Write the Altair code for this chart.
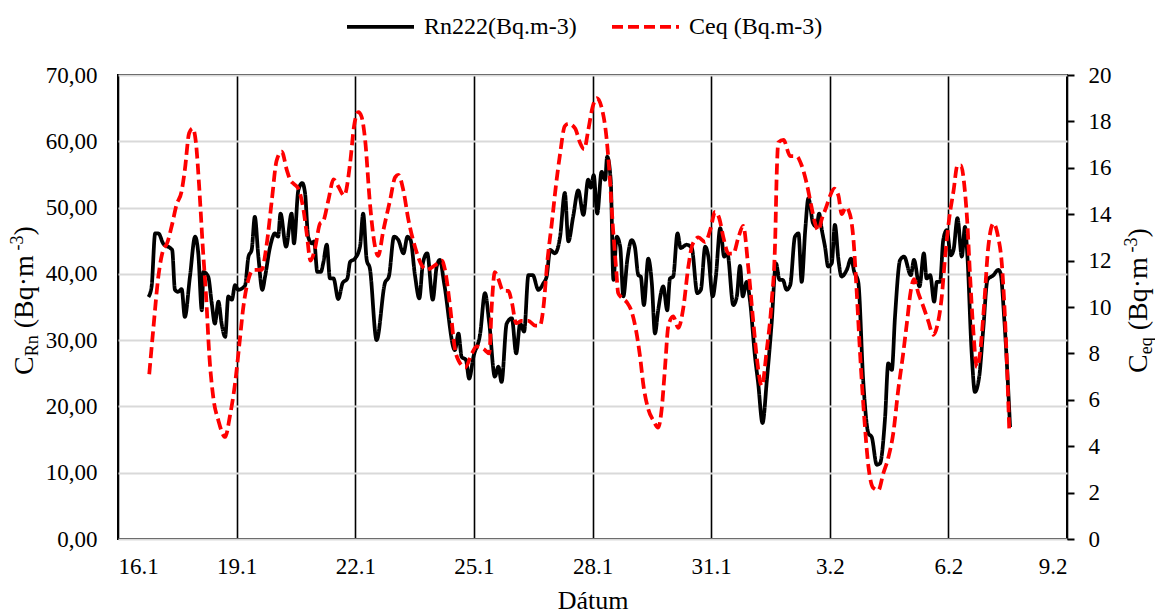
import altair as alt
import pandas as pd

SERIF = "Liberation Serif, Times New Roman, serif"

# ---- data (day offset from 16.1, value) ----
rn_day = [0.77, 0.85, 0.94, 1.02, 1.15, 1.32, 1.37, 1.44, 1.52, 1.61,
          1.69, 1.82, 1.95, 2.03, 2.12, 2.16, 2.28, 2.37, 2.45, 2.54,
          2.62, 2.71, 2.79, 2.88, 2.96, 3.04, 3.21, 3.30, 3.38, 3.46,
          3.55, 3.65, 3.72, 3.84, 3.97, 4.05, 4.11, 4.25, 4.39, 4.45,
          4.56, 4.66, 4.73, 4.81, 4.90, 4.96, 5.04, 5.13, 5.19, 5.28,
          5.36, 5.45, 5.57, 5.68, 5.80, 5.87, 5.99, 6.12, 6.20, 6.29,
          6.37, 6.54, 6.75, 6.85, 6.98, 7.09, 7.22, 7.32, 7.40, 7.51,
          7.62, 7.71, 7.82, 7.96, 8.06, 8.14, 8.25, 8.52, 8.61, 8.69,
          8.80, 8.88, 8.99, 9.16, 9.28, 9.39, 9.53, 9.62, 9.70, 9.83,
          9.96, 10.07, 10.17, 10.27, 10.38, 10.49, 10.63, 10.76, 10.84, 10.93,
          11.05, 11.18, 11.30, 11.39, 11.51, 11.64, 11.77, 11.89, 11.96, 12.03,
          12.12, 12.23, 12.32, 12.37, 12.46, 12.53, 12.61, 12.70, 12.78, 12.88,
          12.99, 13.07, 13.16, 13.22, 13.30, 13.41, 13.50, 13.58, 13.66, 13.79,
          13.89, 13.96, 14.04, 14.15, 14.23, 14.38, 14.51, 14.65, 14.74, 14.85,
          14.93, 15.04, 15.12, 15.23, 15.33, 15.41, 15.56, 15.65, 15.73, 15.80,
          15.90, 15.98, 16.11, 16.19, 16.30, 16.41, 16.53, 16.64, 16.73, 16.81,
          16.91, 17.00, 17.12, 17.21, 17.29, 17.38, 17.46, 17.58, 17.67, 17.73,
          17.80, 17.88, 17.96, 18.05, 18.13, 18.22, 18.30, 18.43, 18.54, 18.62,
          18.72, 18.85, 18.98, 19.06, 19.19, 19.27, 19.40, 19.48, 19.57, 19.65,
          19.78, 19.88, 20.05, 20.13, 20.27, 20.38, 20.45, 20.54, 20.64, 20.71,
          20.79, 20.87, 20.96, 21.06, 21.13, 21.23, 21.34, 21.42, 21.48, 21.59,
          21.67, 21.78, 21.88, 21.99, 22.14, 22.26, 22.32, 22.41, 22.56]
rn_val = [36.5, 38.1, 46.1, 46.1, 44.5, 43.9, 43.6, 37.6, 37.3, 37.7,
          33.5, 39.6, 45.6, 43.1, 34.5, 40.3, 39.6, 35.6, 32.5, 35.8,
          32.5, 30.5, 36.6, 36.1, 38.3, 37.6, 38.2, 42.6, 43.6, 48.6,
          42.6, 37.6, 39.6, 43.9, 46.1, 45.6, 49.1, 44.1, 49.1, 44.6,
          52.6, 53.7, 52.2, 45.6, 44.6, 44.9, 40.3, 40.3, 41.6, 44.4,
          39.3, 39.3, 36.2, 38.6, 39.3, 41.8, 42.3, 44.1, 49.1, 42.1,
          40.8, 30.0, 38.6, 39.6, 45.6, 45.1, 43.1, 45.6, 45.1, 39.8,
          36.3, 41.6, 43.1, 36.1, 41.1, 42.1, 38.5, 28.5, 31.0, 27.5,
          27.0, 24.2, 27.5, 31.0, 37.1, 32.5, 24.5, 26.0, 23.7, 32.5,
          33.3, 28.0, 32.5, 31.3, 39.8, 39.8, 37.6, 38.6, 39.6, 43.6,
          43.1, 45.6, 52.2, 44.9, 48.6, 52.6, 48.9, 54.2, 53.0, 54.9,
          49.1, 55.4, 54.2, 57.7, 54.2, 39.1, 45.6, 44.1, 36.6, 42.1,
          45.1, 44.1, 39.8, 39.6, 35.3, 42.3, 38.6, 31.0, 34.5, 38.1,
          34.5, 39.3, 39.6, 46.1, 43.9, 44.4, 43.9, 37.1, 37.6, 44.1,
          42.6, 36.6, 39.6, 46.9, 42.6, 43.1, 35.3, 36.6, 41.2, 36.6,
          38.8, 36.1, 27.5, 23.5, 17.5, 24.0, 32.5, 41.6, 39.1, 39.1,
          37.6, 38.3, 45.6, 46.1, 38.8, 46.6, 51.4, 47.6, 47.1, 49.1,
          46.6, 44.1, 41.1, 41.6, 47.4, 42.1, 39.6, 40.6, 42.3, 40.3,
          38.8, 23.5, 15.9, 15.4, 11.2, 11.4, 18.4, 26.5, 25.5, 33.5,
          42.1, 42.6, 39.8, 42.1, 38.1, 43.1, 39.3, 39.8, 35.8, 38.8,
          38.8, 45.1, 46.6, 42.8, 43.6, 48.4, 42.6, 47.1, 42.8, 28.0,
          22.2, 24.5, 31.5, 39.1, 39.8, 40.6, 40.1, 33.5, 16.9]

ceq_day = [0.79, 0.89, 1.02, 1.15, 1.23, 1.36, 1.48, 1.61, 1.69, 1.80,
           1.89, 1.97, 2.06, 2.14, 2.23, 2.31, 2.41, 2.54, 2.71, 2.83,
           2.96, 3.07, 3.17, 3.30, 3.42, 3.55, 3.63, 3.76, 3.89, 4.01,
           4.14, 4.27, 4.35, 4.45, 4.56, 4.69, 4.77, 4.87, 4.98, 5.11,
           5.19, 5.32, 5.45, 5.57, 5.72, 5.87, 5.97, 6.08, 6.16, 6.25,
           6.37, 6.50, 6.58, 6.71, 6.88, 7.01, 7.09, 7.22, 7.34, 7.51,
           7.68, 7.81, 7.93, 8.10, 8.19, 8.27, 8.40, 8.52, 8.61, 8.78,
           8.95, 9.07, 9.24, 9.39, 9.45, 9.53, 9.62, 9.74, 9.87, 9.96,
           10.07, 10.21, 10.38, 10.55, 10.67, 10.76, 10.86, 10.97, 11.08, 11.18,
           11.30, 11.39, 11.56, 11.68, 11.79, 11.89, 12.00, 12.11, 12.23, 12.36,
           12.44, 12.51, 12.60, 12.65, 12.74, 12.87, 12.99, 13.10, 13.20, 13.29,
           13.41, 13.54, 13.66, 13.75, 13.83, 13.92, 14.04, 14.17, 14.30, 14.42,
           14.53, 14.68, 14.85, 14.99, 15.10, 15.21, 15.31, 15.44, 15.56, 15.69,
           15.81, 15.94, 16.07, 16.17, 16.28, 16.41, 16.53, 16.62, 16.66, 16.70,
           16.83, 17.00, 17.16, 17.29, 17.42, 17.54, 17.63, 17.71, 17.80, 17.91,
           18.01, 18.11, 18.22, 18.30, 18.41, 18.51, 18.60, 18.68, 18.77, 18.87,
           18.98, 19.10, 19.23, 19.35, 19.48, 19.61, 19.73, 19.85, 19.95, 20.05,
           20.13, 20.24, 20.37, 20.49, 20.62, 20.72, 20.83, 20.92, 21.02, 21.13,
           21.23, 21.32, 21.40, 21.48, 21.55, 21.63, 21.72, 21.80, 21.90, 22.01,
           22.14, 22.26, 22.35, 22.43, 22.54]
ceq_val = [7.1, 9.0, 11.3, 12.5, 12.7, 13.5, 14.4, 15.0, 15.9, 17.5,
           17.7, 17.1, 15.0, 12.7, 10.4, 7.9, 6.1, 5.1, 4.4, 5.3,
           6.7, 8.4, 10.0, 11.2, 11.6, 11.6, 11.6, 12.7, 14.6, 16.3,
           16.7, 15.9, 15.5, 15.3, 15.1, 14.2, 13.2, 12.0, 12.5, 13.6,
           13.7, 14.6, 15.5, 15.2, 14.8, 16.2, 17.8, 18.4, 18.2, 17.2,
           14.5, 12.6, 12.2, 13.3, 14.6, 15.6, 15.7, 15.0, 13.8, 12.6,
           11.8, 11.6, 11.7, 11.9, 12.0, 11.6, 10.0, 8.2, 7.7, 7.4,
           8.0, 8.3, 8.2, 8.0, 10.0, 11.5, 11.2, 10.7, 10.7, 10.2,
           9.3, 9.4, 9.4, 9.2, 9.2, 10.0, 12.0, 13.6, 15.3, 16.6,
           17.8, 17.9, 17.7, 17.1, 16.8, 17.6, 18.6, 19.0, 18.6, 17.2,
           15.5, 13.6, 11.6, 10.6, 10.4, 10.2, 9.8, 9.0, 7.9, 6.6,
           5.6, 5.1, 4.8, 5.6, 7.3, 9.2, 9.6, 9.1, 10.0, 11.7,
           12.7, 13.0, 12.8, 13.4, 14.1, 13.8, 13.0, 12.3, 12.3, 13.0,
           13.5, 11.7, 9.3, 7.6, 6.6, 8.2, 10.2, 12.9, 15.8, 17.1,
           17.2, 16.5, 16.5, 16.1, 15.3, 14.3, 13.6, 13.3, 13.8, 14.3,
           14.8, 15.1, 14.8, 14.0, 14.3, 14.0, 12.9, 10.7, 7.9, 5.3,
           3.1, 2.2, 2.1, 2.8, 3.5, 4.6, 6.4, 7.9, 9.3, 10.7,
           11.2, 10.6, 10.0, 9.4, 8.8, 9.2, 10.4, 12.2, 13.8, 15.0,
           16.1, 16.1, 15.3, 13.6, 11.3, 9.0, 7.4, 8.0, 10.0, 12.6,
           13.6, 13.0, 11.9, 9.6, 4.7]

assert len(rn_day) == len(rn_val)
assert len(ceq_day) == len(ceq_val)

RN = "Rn222(Bq.m-3)"
CEQ = "Ceq (Bq.m-3)"
series_names = [RN, CEQ]
series_colors = ["#000000", "#ff0000"]
series_dash = [[1, 0], [11, 5]]

x_ticks = [0, 3, 6, 9, 12, 15, 18, 21, 24]
left_ticks = [0, 10, 20, 30, 40, 50, 60, 70]
right_ticks = [0, 2, 4, 6, 8, 10, 12, 14, 16, 18, 20]

rn_df = pd.DataFrame({"day": rn_day, "value": rn_val, "series": RN})
ceq_df = pd.DataFrame({"day": ceq_day, "value": ceq_val, "series": CEQ})

AX_FONT = dict(labelFont=SERIF, labelFontSize=23, labelColor="#000000",
               titleFont=SERIF, titleFontSize=26, titleFontWeight="normal",
               titleColor="#000000")

x_enc = alt.X(
    "day:Q",
    scale=alt.Scale(domain=[0, 24], nice=False, zero=False),
    axis=alt.Axis(
        values=x_ticks,
        labelExpr="datum.value + 16 <= 31 ? (datum.value + 16) + '.1' : (datum.value - 15) + '.2'",
        title="Dátum", titleY=69, titleBaseline="alphabetic",
        grid=True, gridColor="#000000", gridWidth=1.6,
        ticks=False, domain=False, labelPadding=16, **AX_FONT,
    ),
)

legend_spec = alt.Legend(
    title=None, orient="none", legendX=227, legendY=-84, direction="horizontal",
    symbolType="stroke", symbolSize=4489, symbolStrokeWidth=3.75,
    labelFont=SERIF, labelFontSize=24, labelColor="#000000",
    columnPadding=27, labelOffset=8, padding=0,
)
color_enc = alt.Color("series:N", scale=alt.Scale(domain=series_names, range=series_colors),
                      legend=legend_spec)
dash_enc = alt.StrokeDash("series:N", scale=alt.Scale(domain=series_names, range=series_dash),
                          legend=legend_spec)

rn_line = alt.Chart(rn_df).mark_line(strokeWidth=3.75, interpolate="monotone").encode(
    x=x_enc,
    y=alt.Y("value:Q", scale=alt.Scale(domain=[0, 70], nice=False),
            axis=alt.Axis(orient="left", values=left_ticks, title=None,
                          labelExpr="replace(format(datum.value, '.2f'), '.', ',')",
                          grid=True, gridColor="#d9d9d9", gridWidth=2,
                          ticks=False, domain=False, labelPadding=21, **AX_FONT)),
    color=color_enc, strokeDash=dash_enc,
)

ceq_line = alt.Chart(ceq_df).mark_line(strokeWidth=3.75, interpolate="monotone").encode(
    x=x_enc,
    y=alt.Y("value:Q", scale=alt.Scale(domain=[0, 20], nice=False),
            axis=alt.Axis(orient="right", values=right_ticks, title=None,
                          grid=False, ticks=True, tickSize=7, tickWidth=2,
                          tickColor="#000000", domain=False, labelPadding=14, **AX_FONT)),
    color=color_enc, strokeDash=dash_enc,
)

NB = "\u00a0"


def piece(text, x, y, size):
    return alt.Chart(alt.Data(values=[{}])).mark_text(
        text=text, angle=270, align="left", baseline="alphabetic",
        font=SERIF, fontSize=size, color="#000000",
    ).encode(x=alt.value(x), y=alt.value(y))


title_pieces = [
    # left axis title: C_Rn (Bq·m^-3)
    piece("C", -85, 300, 28),
    piece("Rn", -80, 281.3, 18),
    piece("(Bq·m", -85, 253.3, 28),
    piece("-3", -95, 175.5, 18),
    piece(")", -85, 160.5, 28),
    # right axis title: C_eq (Bq·m^-3)
    piece("C", 1029, 298, 28),
    piece("eq", 1034, 279.3, 18),
    piece("(Bq·m", 1029, 255.3, 28),
    piece("-3", 1019, 177.5, 18),
    piece(")", 1029, 162.5, 28),
]

lines = alt.layer(rn_line, ceq_line).resolve_scale(y="independent")
chart = alt.layer(lines, *title_pieces).properties(
    width=949, height=464,
    autosize=alt.AutoSizeParams(type="none"),
    padding={"left": 118, "top": 75, "right": 88, "bottom": 76},
).configure(
    font=SERIF, background="#ffffff",
).configure_view(
    stroke="#000000", strokeWidth=2,
).configure_legend(
    labelFont=SERIF, labelFontSize=24, labelColor="#000000",
).configure_axis(
    labelFont=SERIF, titleFont=SERIF,
)

chart.save("out.html", embed_options={"renderer": "svg", "actions": False})
